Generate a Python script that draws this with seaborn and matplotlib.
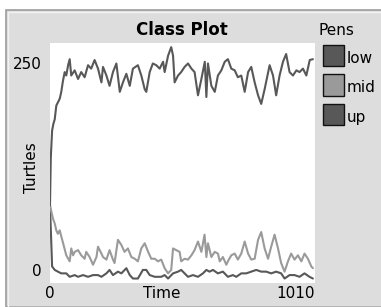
import numpy as np
import pandas as pd
import matplotlib
matplotlib.use('Agg')
import matplotlib.pyplot as plt
from matplotlib.patches import Rectangle
import seaborn as sns

sns.set_style('white')
plt.rcParams['font.family'] = ['DejaVu Sans']
plt.rcParams['text.color'] = 'black'
plt.rcParams['axes.labelcolor'] = 'black'
plt.rcParams['xtick.color'] = 'black'
plt.rcParams['ytick.color'] = 'black'

##### Data #####################################################################
pens = ['low', 'mid', 'up']
pen_colors = {'low': '#585858', 'mid': '#9a9a9a', 'up': '#585858'}

up_time = [0, 3, 8, 13, 18, 24, 37, 43, 49, 56, 62, 69, 75, 81, 94, 107, 119,
           132, 145, 157, 170, 183, 196, 202, 215, 227, 240, 253, 266, 278,
           291, 304, 316, 335, 348, 361, 367, 380, 392, 405, 418, 431, 437,
           450, 462, 469, 475, 488, 500, 513, 526, 539, 551, 564, 577, 590,
           596, 602, 615, 628, 640, 653, 666, 678, 691, 704, 716, 729, 742,
           755, 767, 780, 793, 805, 818, 837, 850, 862, 875, 888, 900, 913,
           926, 939, 951, 964, 977, 990, 1002]
up_turtles = [85, 140, 172, 180, 185, 201, 209, 217, 229, 240, 236, 248, 255,
              236, 242, 232, 240, 234, 248, 244, 254, 244, 228, 246, 236, 224,
              240, 250, 217, 228, 238, 224, 244, 248, 236, 220, 217, 240, 250,
              248, 244, 252, 240, 259, 269, 259, 228, 236, 240, 246, 250, 244,
              240, 213, 232, 252, 211, 250, 224, 217, 236, 242, 252, 255, 244,
              242, 234, 236, 217, 240, 246, 228, 213, 203, 220, 248, 236, 213,
              236, 252, 261, 240, 236, 242, 240, 244, 236, 254, 255]

mid_time = [0, 8, 11, 18, 24, 30, 37, 43, 50, 62, 75, 81, 88, 94, 107, 119,
            132, 138, 151, 164, 177, 183, 196, 202, 215, 227, 240, 246, 259,
            272, 284, 297, 310, 323, 335, 348, 361, 374, 386, 399, 412, 424,
            437, 450, 462, 469, 481, 494, 500, 513, 526, 539, 551, 564, 577,
            589, 596, 602, 615, 628, 640, 647, 659, 672, 678, 691, 704, 716,
            729, 742, 755, 767, 780, 793, 805, 818, 831, 843, 856, 869, 881,
            894, 907, 919, 932, 945, 958, 970, 983, 996, 1002]
mid_turtles = [85, 74, 70, 64, 56, 52, 56, 49, 41, 27, 20, 35, 27, 31, 33, 27,
               23, 31, 25, 16, 25, 37, 29, 25, 22, 33, 22, 18, 45, 39, 31, 35,
               25, 23, 20, 35, 41, 31, 23, 23, 20, 22, 12, 6, 10, 35, 33, 31,
               20, 23, 22, 27, 33, 43, 31, 51, 25, 41, 25, 31, 29, 20, 25, 16,
               20, 27, 29, 22, 29, 43, 29, 22, 23, 45, 54, 35, 23, 37, 51, 35,
               18, 8, 20, 29, 22, 27, 20, 29, 23, 14, 12]

low_time = [0, 8, 18, 30, 43, 62, 75, 94, 107, 126, 145, 164, 183, 196, 215,
            227, 240, 259, 272, 291, 304, 316, 335, 354, 367, 380, 399, 424,
            437, 450, 469, 488, 500, 513, 526, 545, 564, 583, 596, 608, 621,
            640, 659, 678, 697, 710, 729, 748, 767, 786, 805, 824, 843, 862,
            881, 894, 913, 932, 951, 970, 989, 1002]
low_turtles = [85, 14, 10, 8, 6, 6, 2, 4, 2, 4, 2, 4, 4, 2, 6, 10, 4, 8, 6,
               12, 4, 0, 0, 10, 10, 4, 2, 2, 4, 0, 6, 8, 10, 6, 2, 4, 2, 6,
               10, 8, 10, 6, 8, 2, 4, 2, 6, 6, 8, 10, 8, 8, 6, 8, 6, 0, 4, 4,
               2, 6, 2, 0]

df = pd.concat([
    pd.DataFrame({'time': low_time, 'turtles': low_turtles, 'pen': 'low'}),
    pd.DataFrame({'time': mid_time, 'turtles': mid_turtles, 'pen': 'mid'}),
    pd.DataFrame({'time': up_time, 'turtles': up_turtles, 'pen': 'up'})])

##### Figure ###################################################################
W, H = 381, 307
fig = plt.figure(figsize=(W / 100, H / 100), dpi=100, facecolor='white')

def fx(px):
    return px / W

def fy(py):
    return 1 - py / H

# widget frame (behind the axes)
fig.patches.append(Rectangle((fx(5.5), 0), 1, fy(9.5), transform=fig.transFigure,
    facecolor='#dddddd', edgecolor='#9c9c9c', lw=1.2, zorder=-10))
fig.patches.append(Rectangle((fx(7.5), 0), 1, fy(11.5), transform=fig.transFigure,
    facecolor='none', edgecolor='#f2f2f2', lw=1.0, zorder=-9))

ax = fig.add_axes([fx(50), fy(283), fx(315) - fx(50), fy(43) - fy(283)])
ax.set_facecolor('white')

sns.lineplot(ax=ax, data=df, x='time', y='turtles', hue='pen',
    palette=pen_colors, estimator=None, sort=False, legend=False,
    linewidth=1.5)

ax.set_xlim(0, 1010)
ax.set_ylim(-5.2, 273.8)
for s in ax.spines.values():
    s.set_visible(False)

ax.set_xticks([0, 1010])
ax.set_xticklabels(['0', '1010'], fontsize=11)
ax.get_xticklabels()[1].set_horizontalalignment('right')
ax.set_yticks([0, 250])
ax.set_yticklabels(['0', '250'], fontsize=11)
ax.get_yticklabels()[0].set_verticalalignment('bottom')
ax.tick_params(length=0)
ax.tick_params(axis='x', pad=2)
ax.tick_params(axis='y', pad=6)

ax.set_xlabel('Time', fontsize=11, va='baseline')
ax.xaxis.set_label_coords((162 - 50) / 265, (283 - 298) / 240)
ax.set_ylabel('Turtles', fontsize=11, va='center')
ax.yaxis.set_label_coords((32 - 50) / 265, (283 - 168) / 240)

fig.text(fx(182), fy(35), 'Class Plot', fontsize=12, fontweight='bold',
    ha='center', va='baseline')

# pens legend
fig.text(fx(318), fy(35), 'Pens', fontsize=11, ha='left', va='baseline')
for i, pen in enumerate(pens):
    top = 45 + 29.5 * i
    fig.patches.append(Rectangle((fx(323), fy(top + 21)), fx(21), 21 / H,
        transform=fig.transFigure, facecolor=pen_colors[pen],
        edgecolor='#111111', lw=1.0))
    fig.text(fx(347), fy(top + 18), pen, fontsize=11, ha='left',
        va='baseline')

plt.savefig('out.png', dpi=100)
